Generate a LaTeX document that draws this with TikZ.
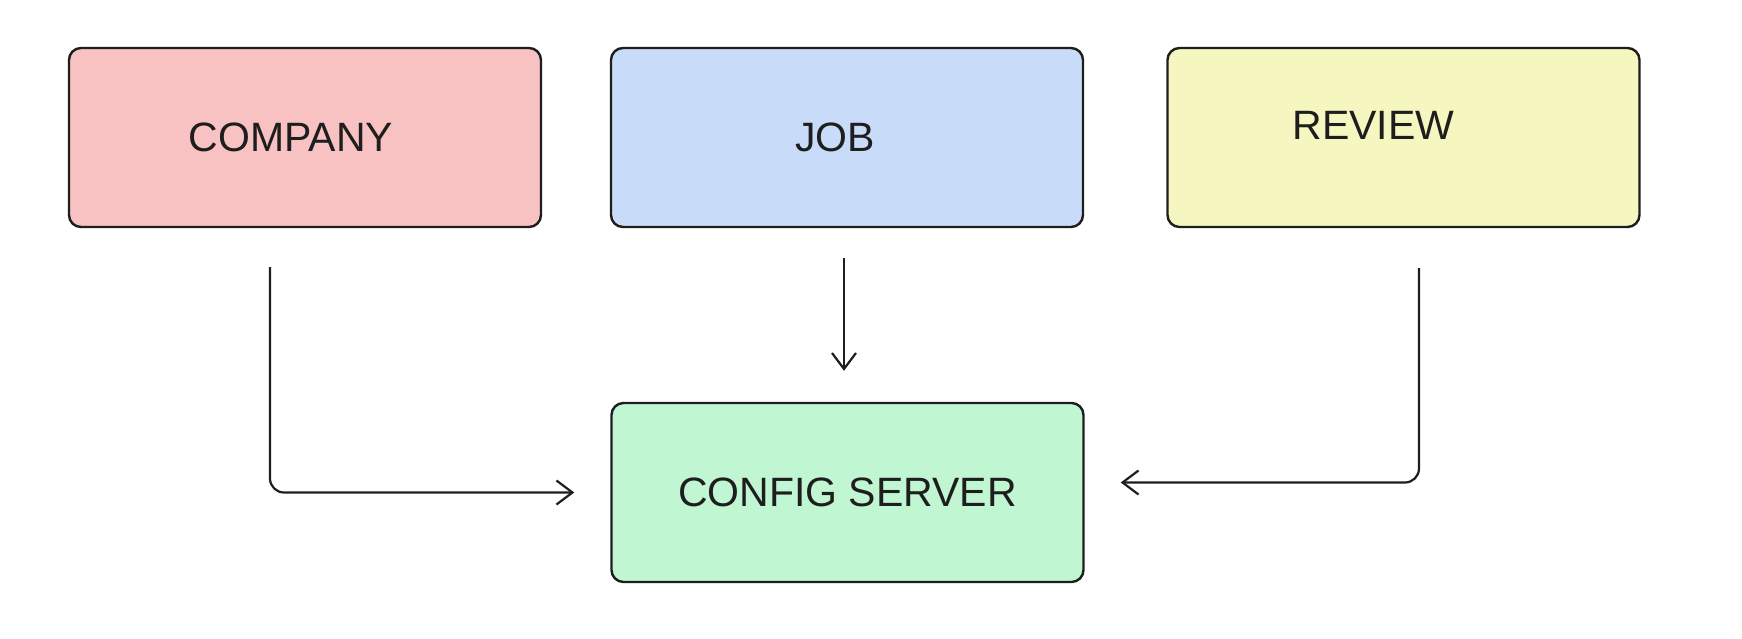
\documentclass[tikz,border=0pt]{standalone}
\usepackage{fontspec}
\setmainfont{Liberation Sans}
\usetikzlibrary{arrows.meta, positioning}
\definecolor{inkline}{HTML}{1E1E1E}
\definecolor{companyfill}{HTML}{F8C1C2}
\definecolor{jobfill}{HTML}{C8DCFA}
\definecolor{reviewfill}{HTML}{F6F7C0}
\definecolor{configfill}{HTML}{C0F7D2}

\begin{document}
\begin{tikzpicture}[x=0.5pt, y=-0.5pt,
    servicebox/.style={draw=inkline, line width=1.2pt, rounded corners=6pt,
        minimum width=236pt, minimum height=89.5pt, inner sep=0pt,
        font=\fontsize{20.5}{24}\selectfont, text=inkline},
    boxtext/.style={font=\fontsize{20.5}{24}\selectfont, text=inkline},
    flow/.style={draw=inkline, line width=1.1pt, rounded corners=7pt,
        -{Straight Barb[length=8pt, width=12pt, line width=1.1pt]}}]
    % Keep the page the size of the reference
    \useasboundingbox (0,0) rectangle (1742,638);

    % Draw the service boxes
    \node[servicebox, fill=companyfill, label={[boxtext, xshift=-7pt]center:COMPANY}] (company) at (305,137.5) {};
    \node[servicebox, fill=jobfill, label={[boxtext, xshift=-6pt]center:JOB}] (job) at (847,137.5) {};
    \node[servicebox, fill=reviewfill, label={[boxtext, xshift=-15pt, yshift=6pt]center:REVIEW}] (review) at (1403.5,137.5) {};
    \node[servicebox, fill=configfill] (config) at (847.5,492.5) {CONFIG SERVER};

    % Free ends of the arrows
    \coordinate (companyout) at (270,267);
    \coordinate (jobout) at (844,258);
    \coordinate (reviewout) at (1419,268);
    \coordinate (jobin) at ([yshift=15.5pt]config.north);

    % Draw the arrows into the config server
    \draw[flow] (companyout) |- ([xshift=-18pt]config.west);
    \draw[flow] (jobout) -- (jobout |- jobin);
    \draw[flow] (reviewout) |- ([xshift=18pt, yshift=5pt]config.east);
\end{tikzpicture}
\end{document}
